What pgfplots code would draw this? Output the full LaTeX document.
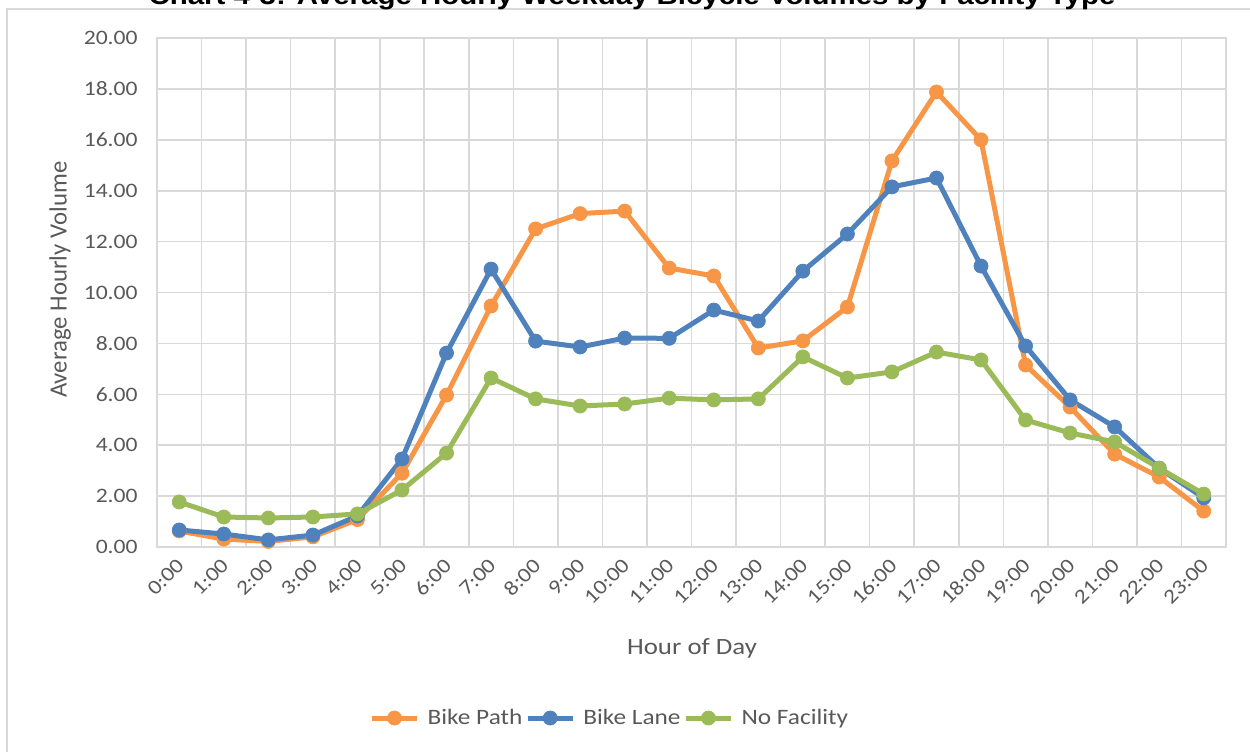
\documentclass[border=0pt]{standalone}
\usepackage{fontspec}
\setmainfont{Carlito}[FakeStretch=1.15]
\newfontfamily\plainfont{Carlito}
\newfontfamily\titlefont{Liberation Sans}[FakeStretch=1.15]
\usepackage{pgfplots}
\pgfplotsset{compat=1.18}
\definecolor{pathorange}{HTML}{F79646}
\definecolor{laneblue}{HTML}{4F81BD}
\definecolor{nofacgreen}{HTML}{9BBB59}
\definecolor{gridgray}{HTML}{D9D9D9}
\definecolor{textgray}{HTML}{595959}

\begin{document}
\begin{tikzpicture}
\path[use as bounding box] (0pt,0pt) rectangle (937.5pt,-563.25pt);
\clip (0pt,0pt) rectangle (937.5pt,-563.25pt);
% chart area border, cut off on the right and bottom
\draw[gridgray, line width=1.3pt] (5.25pt,-6.5pt) rectangle (960pt,-590pt);
\node[anchor=base, font=\titlefont\bfseries\fontsize{19.2}{22}\selectfont] at (474pt,-3pt)
  {Chart 4-3: Average Hourly Weekday Bicycle Volumes by Facility Type};
\begin{axis}[
  at={(117.75pt,-410.25pt)}, anchor=south west,
  scale only axis,
  width=801.75pt, height=381.75pt,
  xmin=-0.5, xmax=23.5, ymin=0, ymax=20,
  xtick={0,...,23},
  xticklabels={0:00,1:00,2:00,3:00,4:00,5:00,6:00,7:00,8:00,9:00,10:00,11:00,12:00,13:00,14:00,15:00,16:00,17:00,18:00,19:00,20:00,21:00,22:00,23:00},
  minor xtick={-0.5,0.5,...,23.5},
  xminorgrids,
  ytick={0,2,...,20},
  ymajorgrids,
  grid style={gridgray, line width=1.2pt},
  minor grid style={gridgray, line width=1.2pt},
  axis line style={gridgray, line width=1.2pt},
  major tick length=0pt, minor tick length=0pt,
  tick style={draw=none},
  clip=false,
  yticklabel style={font=\fontsize{15.4}{18}\selectfont, text=textgray, xshift=-11pt,
    /pgf/number format/.cd, fixed, fixed zerofill, precision=2, assume math mode=true},
  xticklabel style={font=\fontsize{15.4}{18}\selectfont, text=textgray, xshift=3.4pt, yshift=-9pt, rotate=45, anchor=east},
  xlabel={Hour of Day},
  xlabel style={at={(axis description cs:0.5005,0)}, anchor=center, yshift=-75.75pt,
    font=\fontsize{17.5}{20}\selectfont, text=textgray},
  ylabel={Average Hourly Volume},
  ylabel style={at={(axis description cs:-0.0907,0.525)}, anchor=center,
    font=\plainfont\fontsize{18.6}{21}\selectfont, text=textgray},
  legend style={at={(axis description cs:0.4238,-0.336)}, anchor=center, draw=none, fill=none,
    font=\fontsize{16.5}{19}\selectfont, text=textgray, legend columns=3,
    /tikz/every odd column/.append style={column sep=4pt}},
  legend image code/.code={\draw[mark repeat=2, mark phase=2] plot coordinates {(0pt,0pt) (17pt,0pt) (34pt,0pt)};},
]
\addplot[pathorange, line width=3.75pt, mark=*, mark size=5.3pt, mark options={fill=pathorange, line width=0.5pt}] coordinates {
  (0,0.63) (1,0.31) (2,0.22) (3,0.40) (4,1.08) (5,2.90) (6,5.97) (7,9.47)
  (8,12.50) (9,13.10) (10,13.20) (11,10.96) (12,10.65) (13,7.82) (14,8.10) (15,9.43)
  (16,15.17) (17,17.88) (18,16.00) (19,7.15) (20,5.50) (21,3.65) (22,2.75) (23,1.41)
};
\addlegendentry{Bike Path}
\addplot[laneblue, line width=3.75pt, mark=*, mark size=5.3pt, mark options={fill=laneblue, line width=0.5pt}] coordinates {
  (0,0.67) (1,0.51) (2,0.28) (3,0.47) (4,1.22) (5,3.46) (6,7.62) (7,10.92)
  (8,8.09) (9,7.86) (10,8.21) (11,8.20) (12,9.31) (13,8.88) (14,10.84) (15,12.30)
  (16,14.15) (17,14.50) (18,11.04) (19,7.90) (20,5.78) (21,4.72) (22,3.10) (23,1.93)
};
\addlegendentry{Bike Lane}
\addplot[nofacgreen, line width=3.75pt, mark=*, mark size=5.3pt, mark options={fill=nofacgreen, line width=0.5pt}] coordinates {
  (0,1.77) (1,1.18) (2,1.14) (3,1.18) (4,1.30) (5,2.24) (6,3.69) (7,6.64)
  (8,5.82) (9,5.54) (10,5.62) (11,5.85) (12,5.78) (13,5.82) (14,7.47) (15,6.64)
  (16,6.88) (17,7.66) (18,7.35) (19,4.99) (20,4.48) (21,4.13) (22,3.10) (23,2.08)
};
\addlegendentry{No Facility}
\end{axis}
\end{tikzpicture}
\end{document}
